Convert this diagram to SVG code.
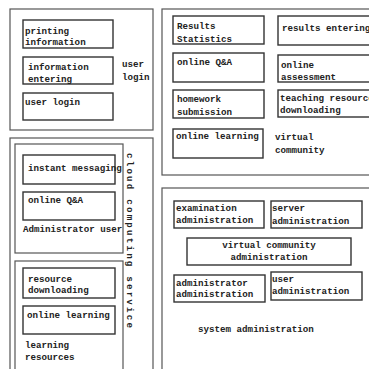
<svg xmlns="http://www.w3.org/2000/svg" width="369" height="369" viewBox="0 0 369 369">
<style>
.outer{fill:none;stroke:#555;stroke-width:1.2}
.box{fill:#fff;stroke:#333;stroke-width:1.4}
text{font-family:"Liberation Mono","DejaVu Sans Mono",monospace;font-size:9.2px;font-weight:bold;fill:#222}
</style>
<rect width="369" height="369" fill="#fff"/>
<g id="user-login-group">
<rect class="outer" x="10" y="9" width="143" height="121"/>
<text x="122" y="67">user</text><text x="122" y="80">login</text>
</g>
<g id="printing-information"><rect class="box" x="23" y="20" width="90" height="28"/><text x="25" y="34">printing</text><text x="25" y="45">information</text></g>
<g id="information-entering"><rect class="box" x="23" y="57" width="90" height="27"/><text x="28" y="70">information</text><text x="28" y="82">entering</text></g>
<g id="user-login"><rect class="box" x="23" y="93" width="90" height="27"/><text x="25" y="105">user login</text></g>

<g id="virtual-community-group">
<rect class="outer" x="162" y="9" width="212" height="166"/>
<text x="275" y="140">virtual</text><text x="275" y="153">community</text>
</g>
<g id="results-statistics"><rect class="box" x="173" y="16" width="91" height="28"/><text x="177" y="29">Results</text><text x="177" y="42">Statistics</text></g>
<g id="results-entering"><rect class="box" x="278" y="16" width="96" height="29"/><text x="282" y="31">results entering</text></g>
<g id="online-qa-1"><rect class="box" x="173" y="53" width="91" height="29"/><text x="177" y="65">online Q&amp;A</text></g>
<g id="online-assessment"><rect class="box" x="278" y="55" width="96" height="27"/><text x="281" y="68">online</text><text x="281" y="80">assessment</text></g>
<g id="homework-submission"><rect class="box" x="173" y="90" width="91" height="28"/><text x="177" y="102">homework</text><text x="177" y="115">submission</text></g>
<g id="teaching-resources"><rect class="box" x="278" y="90" width="96" height="27"/><text x="280" y="101">teaching resources</text><text x="280" y="113">downloading</text></g>
<g id="online-learning-1"><rect class="box" x="173" y="129" width="90" height="29"/><text x="176" y="139">online learning</text></g>

<g id="cloud-computing-service">
<rect class="outer" x="10" y="138" width="143" height="240"/>
<text transform="translate(127,153) rotate(90)" textLength="175" lengthAdjust="spacing">cloud computing service</text>
</g>
<g id="administrator-user">
<rect class="outer" x="15" y="144" width="108" height="109"/>
<text x="23" y="232">Administrator user</text>
</g>
<g id="instant-messaging"><rect class="box" x="23" y="155" width="92" height="29"/><text x="28" y="171">instant messaging</text></g>
<g id="online-qa-2"><rect class="box" x="23" y="192" width="92" height="28"/><text x="28" y="203">online Q&amp;A</text></g>
<g id="learning-resources">
<rect class="outer" x="15" y="261" width="108" height="120"/>
<text x="25" y="348">learning</text><text x="25" y="360">resources</text>
</g>
<g id="resource-downloading"><rect class="box" x="23" y="268" width="92" height="30"/><text x="28" y="282">resource</text><text x="28" y="293">downloading</text></g>
<g id="online-learning-2"><rect class="box" x="23" y="306" width="92" height="28"/><text x="27" y="318">online learning</text></g>

<g id="system-administration">
<rect class="outer" x="162" y="188" width="212" height="190"/>
<text x="198" y="332">system administration</text>
</g>
<g id="examination-administration"><rect class="box" x="174" y="201" width="90" height="27"/><text x="176" y="211">examination</text><text x="176" y="223">administration</text></g>
<g id="server-administration"><rect class="box" x="271" y="201" width="91" height="27"/><text x="272" y="211">server</text><text x="272" y="224">administration</text></g>
<g id="virtual-community-administration"><rect class="box" x="187" y="238" width="164" height="27"/><text x="269" y="248" text-anchor="middle">virtual community</text><text x="269" y="260" text-anchor="middle">administration</text></g>
<g id="administrator-administration"><rect class="box" x="174" y="275" width="91" height="27"/><text x="176" y="286">administrator</text><text x="176" y="297">administration</text></g>
<g id="user-administration"><rect class="box" x="271" y="272" width="91" height="28"/><text x="272" y="282">user</text><text x="272" y="294">administration</text></g>
</svg>
